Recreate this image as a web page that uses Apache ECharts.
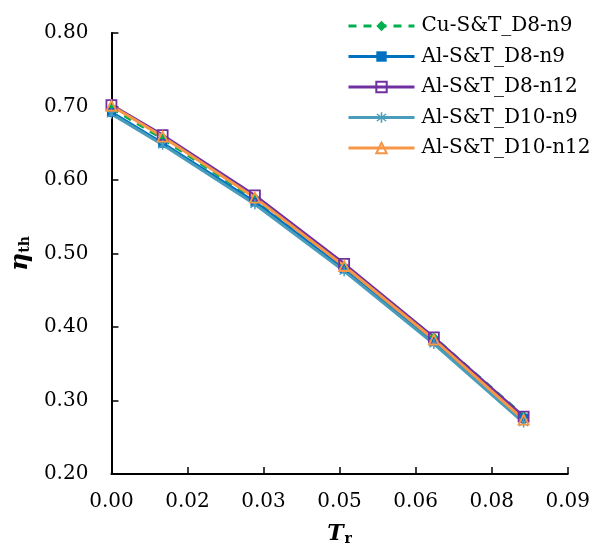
<!DOCTYPE html>
<html>
<head>
<meta charset="utf-8">
<script src="https://cdn.jsdelivr.net/npm/echarts@6/dist/echarts.min.js"></script>
<style>html,body{margin:0;padding:0;background:#fff}#c{width:593px;height:551px}</style>
</head>
<body>
<div id="c"></div>
<script>
var xValues = [0, 0.0101, 0.0283, 0.0459, 0.0636, 0.0813];
var cuD8n9   = [0.698, 0.656, 0.574, 0.482, 0.386, 0.279];
var alD8n9   = [0.692, 0.650, 0.570, 0.479, 0.380, 0.276];
var alD8n12  = [0.702, 0.661, 0.579, 0.486, 0.386, 0.278];
var alD10n9  = [0.690, 0.648, 0.567, 0.476, 0.377, 0.270];
var alD10n12 = [0.701, 0.659, 0.576, 0.483, 0.383, 0.274];
var seriesNames = ['Cu-S&T_D8-n9', 'Al-S&T_D8-n9', 'Al-S&T_D8-n12', 'Al-S&T_D10-n9', 'Al-S&T_D10-n12'];
var xTickLabels = ['0.00', '0.02', '0.03', '0.05', '0.06', '0.08', '0.09'];
var yTickLabels = ['0.20', '0.30', '0.40', '0.50', '0.60', '0.70', '0.80'];

var FONT = 'DejaVu Serif';
var starPath = 'path://M-1.2,-10L1.2,-10L1.2,10L-1.2,10Z M-7.9,-6.2L-6.2,-7.9L7.9,6.2L6.2,7.9Z M6.2,-7.9L7.9,-6.2L-6.2,7.9L-7.9,6.2Z';

function pairs(ys) { return xValues.map(function (x, i) { return [x, ys[i]]; }); }

var chart = echarts.init(document.getElementById('c'), null, {renderer: 'canvas'});
var option = {
  animation: false,
  backgroundColor: '#fff',
  grid: {left: 105, right: 21, top: 33, bottom: 70, containLabel: false},
  legend: {
    orient: 'vertical',
    left: 342,
    top: 11,
    itemWidth: 66,
    itemHeight: 13,
    itemGap: 10.5,
    lineStyle: {width: 3},
    textStyle: {fontFamily: FONT, fontSize: 20, color: '#000', lineHeight: 20, padding: [0, 0, 0, 2]},
    data: seriesNames
  },
  xAxis: {
    type: 'value',
    min: 0, max: 0.09, interval: 0.015,
    name: '{t|T}{s|r}',
    nameLocation: 'middle',
    nameGap: 48,
    nameTextStyle: {
      rich: {
        t: {fontFamily: FONT, fontSize: 22, fontWeight: 'bold', fontStyle: 'italic', color: '#000'},
        s: {fontFamily: FONT, fontSize: 14, fontWeight: 'bold', color: '#000', padding: [10, 0, 0, 1]}
      }
    },
    axisLine: {lineStyle: {color: '#000', width: 2}},
    axisTick: {inside: true, length: 7, lineStyle: {color: '#000', width: 1.5}},
    axisLabel: {
      fontFamily: FONT, fontSize: 20, color: '#000', margin: 18,
      formatter: function (v) { return xTickLabels[Math.round(v / 0.015)]; }
    },
    splitLine: {show: false}
  },
  yAxis: {
    type: 'value',
    min: 0.2, max: 0.8, interval: 0.1,
    name: '{e|η}{s|th}',
    nameLocation: 'middle',
    nameGap: 70,
    nameTextStyle: {
      rich: {
        e: {fontFamily: FONT, fontSize: 25, fontWeight: 'bold', fontStyle: 'italic', color: '#000'},
        s: {fontFamily: FONT, fontSize: 14, fontWeight: 'bold', color: '#000', padding: [10, 0, 0, 0]}
      }
    },
    axisLine: {show: true, lineStyle: {color: '#000', width: 2}},
    axisTick: {show: true, inside: true, length: 7, lineStyle: {color: '#000', width: 1.5}},
    axisLabel: {
      fontFamily: FONT, fontSize: 20, color: '#000', margin: 23,
      formatter: function (v) { return yTickLabels[Math.round((v - 0.2) / 0.1)]; }
    },
    splitLine: {show: false}
  },
  series: [
    {
      name: seriesNames[0], type: 'line', data: pairs(cuD8n9),
      symbol: 'diamond', symbolSize: 10,
      lineStyle: {color: '#00B050', width: 3, type: [8, 7]},
      itemStyle: {color: '#00B050'}
    },
    {
      name: seriesNames[1], type: 'line', data: pairs(alD8n9),
      symbol: 'rect', symbolSize: 9,
      lineStyle: {color: '#0070C0', width: 3},
      itemStyle: {color: '#0070C0'}
    },
    {
      name: seriesNames[2], type: 'line', data: pairs(alD8n12),
      symbol: 'rect', symbolSize: 10,
      lineStyle: {color: '#7030A0', width: 3},
      itemStyle: {color: 'rgba(255,255,255,0)', borderColor: '#7030A0', borderWidth: 1.8}
    },
    {
      name: seriesNames[3], type: 'line', data: pairs(alD10n9),
      symbol: starPath, symbolSize: 10,
      lineStyle: {color: '#4A9DBA', width: 3},
      itemStyle: {color: '#4A9DBA'}
    },
    {
      name: seriesNames[4], type: 'line', data: pairs(alD10n12),
      symbol: 'triangle', symbolSize: 10,
      lineStyle: {color: '#F79646', width: 3},
      itemStyle: {color: 'rgba(255,255,255,0)', borderColor: '#F79646', borderWidth: 1.8}
    }
  ]
};
chart.setOption(option);
</script>
</body>
</html>
